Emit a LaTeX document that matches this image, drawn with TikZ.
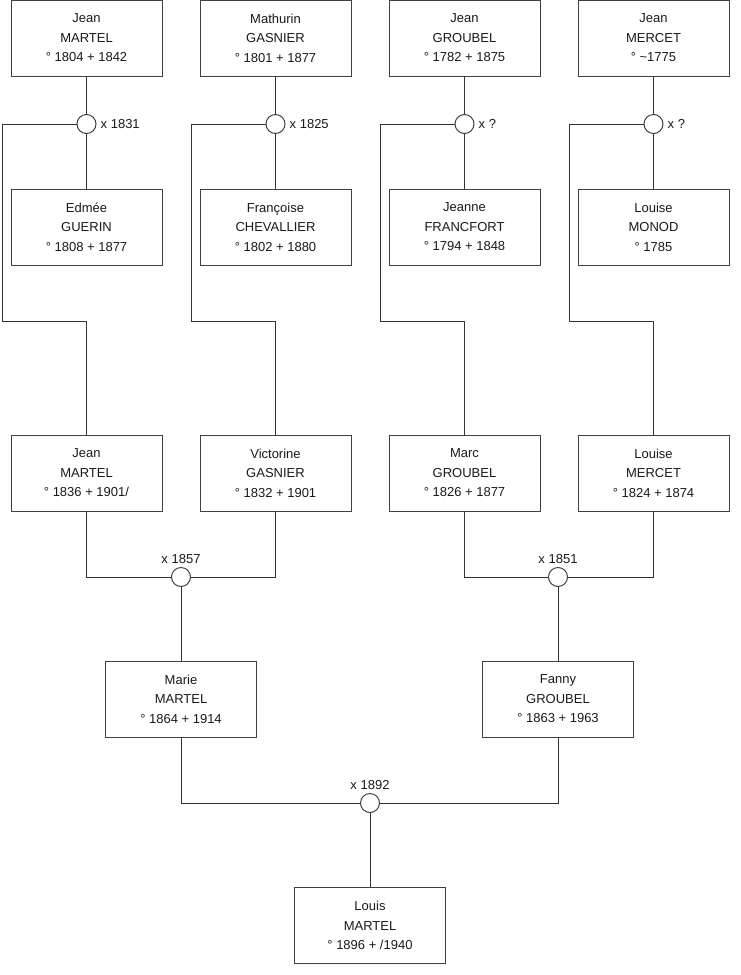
\documentclass[tikz,border=0pt]{standalone}
\usepackage{fontspec}
\setmainfont{Liberation Sans}
\begin{document}
\begin{tikzpicture}[x=1pt,y=-1pt,
  person/.style={draw=black!75, line width=1pt, minimum width=151pt, minimum height=76pt, inner sep=0pt, align=center, font=\fontsize{13}{19.5}\selectfont, text=black!90},
  ring/.style={draw=black!75, line width=1pt, circle, minimum size=19pt, inner sep=0pt, fill=white},
  lbl/.style={font=\fontsize{13}{15}\selectfont, text=black!90, inner sep=0pt},
  link/.style={draw=black!80, line width=1pt}]
\useasboundingbox (0,0) rectangle (740,975);
% top row
\node[person] (a1) at (86.5,38) {Jean\\MARTEL\\° 1804 + 1842};
\node[person] (a2) at (275.5,38) {Mathurin\\GASNIER\\° 1801 + 1877};
\node[person] (a3) at (464.5,38) {Jean\\GROUBEL\\° 1782 + 1875};
\node[person] (a4) at (653.5,38) {Jean\\MERCET\\° \textasciitilde1775};
% second row
\node[person] (b1) at (86.5,227) {Edmée\\GUERIN\\° 1808 + 1877};
\node[person] (b2) at (275.5,227) {Françoise\\CHEVALLIER\\° 1802 + 1880};
\node[person] (b3) at (464.5,227) {Jeanne\\FRANCFORT\\° 1794 + 1848};
\node[person] (b4) at (653.5,227) {Louise\\MONOD\\° 1785};
% third row
\node[person] (c1) at (86.5,473) {Jean\\MARTEL\\° 1836 + 1901/};
\node[person] (c2) at (275.5,473) {Victorine\\GASNIER\\° 1832 + 1901};
\node[person] (c3) at (464.5,473) {Marc\\GROUBEL\\° 1826 + 1877};
\node[person] (c4) at (653.5,473) {Louise\\MERCET\\° 1824 + 1874};
% fourth row
\node[person] (d1) at (181,699) {Marie\\MARTEL\\° 1864 + 1914};
\node[person] (d2) at (558,699) {Fanny\\GROUBEL\\° 1863 + 1963};
% bottom
\node[person] (e1) at (370,925.5) {Louis\\MARTEL\\° 1896 + /1940};
% marriage rings top
\node[ring] (m1) at (86.5,124) {};
\node[ring] (m2) at (275.5,124) {};
\node[ring] (m3) at (464.5,124) {};
\node[ring] (m4) at (653.5,124) {};
\node[lbl, anchor=west] (l1) at (m1.east) [xshift=4pt] {x 1831};
\node[lbl, anchor=west] (l2) at (m2.east) [xshift=4pt] {x 1825};
\node[lbl, anchor=west] (l3) at (m3.east) [xshift=4pt] {x ?};
\node[lbl, anchor=west] (l4) at (m4.east) [xshift=4pt] {x ?};
% lower rings
\node[ring] (n1) at (181,577) {};
\node[ring] (n2) at (558,577) {};
\node[ring] (n3) at (370,803) {};
\node[lbl, anchor=south] (k1) at (n1.north) [yshift=3pt] {x 1857};
\node[lbl, anchor=south] (k2) at (n2.north) [yshift=3pt] {x 1851};
\node[lbl, anchor=south] (k3) at (n3.north) [yshift=3pt] {x 1892};
% bend coordinates
\coordinate (p1a) at (2,124);   \coordinate (p1b) at (2,321);
\coordinate (p2a) at (191,124); \coordinate (p2b) at (191,321);
\coordinate (p3a) at (380,124); \coordinate (p3b) at (380,321);
\coordinate (p4a) at (569,124); \coordinate (p4b) at (569,321);
% top connectors
\foreach \i in {1,2,3,4}{
  \draw[link] (a\i.south) -- (m\i.north);
  \draw[link] (m\i.south) -- (b\i.north);
  \draw[link] (m\i.west) -- (p\i a) -- (p\i b) -| (c\i.north);
}
% lower connectors
\draw[link] (c1.south) |- (n1.west);
\draw[link] (c2.south) |- (n1.east);
\draw[link] (n1.south) -- (d1.north);
\draw[link] (c3.south) |- (n2.west);
\draw[link] (c4.south) |- (n2.east);
\draw[link] (n2.south) -- (d2.north);
\draw[link] (d1.south) |- (n3.west);
\draw[link] (d2.south) |- (n3.east);
\draw[link] (n3.south) -- (e1.north);
\end{tikzpicture}
\end{document}
